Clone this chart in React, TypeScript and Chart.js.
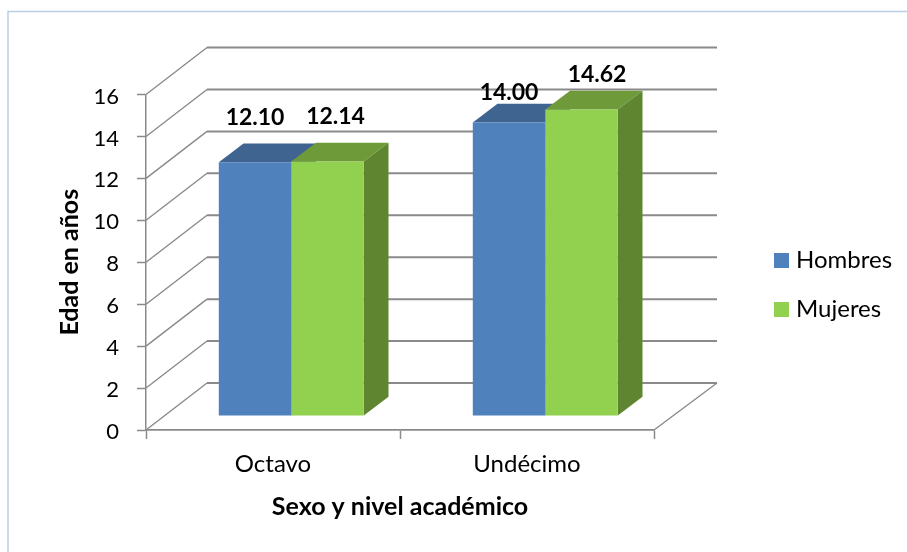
import React, { useEffect, useRef } from "react";
import { Chart, registerables } from "chart.js";

Chart.register(...registerables);

const categories = ["Octavo", "Undécimo"];
const hombres = [12.1, 14.0];
const mujeres = [12.14, 14.62];
const seriesNames = ["Hombres", "Mujeres"];
const axisTitleY = "Edad en años";
const axisTitleX = "Sexo y nivel académico";

const FONT = "Lato, Carlito, Calibri, sans-serif";
const AXIS = "#8a8a8a";
const BLUE = { front: "#4f81bd", top: "#3f6490", side: "#3a5f8c" };
const GREEN = { front: "#92d050", top: "#6f9a3a", side: "#5f8530" };
const palette = [BLUE, GREEN];

// 3D projection used by the hand-drawn walls and bar faces
const WALL = { dxLeft: 61, dxRight: 63, dy: 47 };
const BAR_SHIFT = { x: 18.3, y: -14 };
const BAR_DEPTH = { x: 24.7, y: 18.7 };
// manual placement of the value labels, relative to each bar's front-top centre
const LABEL_NUDGE = [
  [{ x: 0, y: -45 }, { x: 0, y: -30 }],
  [{ x: 8, y: -45 }, { x: 15.5, y: -35 }],
];

const threeD = {
  id: "threeD",
  beforeDraw(chart: any) {
    const { ctx, width, height } = chart;
    ctx.save();
    ctx.strokeStyle = "#b9cfe8";
    ctx.lineWidth = 1.5;
    ctx.beginPath();
    ctx.moveTo(8, height);
    ctx.lineTo(8, 11.5);
    ctx.lineTo(width, 11.5);
    ctx.stroke();
    ctx.restore();
  },
  afterLayout(chart: any) {
    const l = chart.legend;
    if (l) {
      const pad = l.options.labels.padding;
      l.left = 779 - pad;
      l.right = 907;
      l.width = l.right - l.left;
      l.top = 285 - 150 - pad;
      l.bottom = 285 + 150 + pad;
      l.height = l.bottom - l.top;
    }
    // The reference's value-axis numbers sit about 2px lower than a middle baseline gives.
    const y = chart.scales.y;
    if (!y.__shifted) {
      y.__shifted = true;
      const drawLabels = y.drawLabels;
      y.drawLabels = function (area: any) {
        this.ctx.save();
        this.ctx.translate(0, 2);
        drawLabels.call(this, area);
        this.ctx.restore();
      };
    }
  },
  beforeDatasetsDraw(chart: any) {
    const { ctx, chartArea, scales } = chart;
    const { left, right, bottom } = chartArea;
    ctx.save();
    ctx.strokeStyle = AXIS;
    ctx.lineCap = "butt";
    scales.y.ticks.forEach((t: any) => {
      const y = scales.y.getPixelForValue(t.value);
      ctx.lineWidth = 1.4;
      ctx.beginPath();
      ctx.moveTo(left, y);
      ctx.lineTo(left + WALL.dxLeft, y - WALL.dy);
      ctx.stroke();
      ctx.lineWidth = 2;
      ctx.beginPath();
      ctx.moveTo(left + WALL.dxLeft, y - WALL.dy);
      ctx.lineTo(right + WALL.dxRight, y - WALL.dy);
      ctx.stroke();
    });
    ctx.lineWidth = 1.4;
    ctx.beginPath();
    ctx.moveTo(right, bottom);
    ctx.lineTo(right + WALL.dxRight, bottom - WALL.dy);
    ctx.stroke();
    ctx.restore();

    // Series are painted first to last, so the second one overlaps the first.
    chart.data.datasets.forEach((_: any, i: number) => {
      const meta = chart.getDatasetMeta(i);
      const c = palette[i];
      ctx.save();
      ctx.translate(BAR_SHIFT.x, BAR_SHIFT.y);
      meta.data.forEach((el: any) => {
        const { x, y, base, width } = el.getProps(["x", "y", "base", "width"], true);
        const l = x - width / 2;
        const r = x + width / 2;
        ctx.fillStyle = c.top;
        ctx.beginPath();
        ctx.moveTo(l, y);
        ctx.lineTo(l + BAR_DEPTH.x, y - BAR_DEPTH.y);
        ctx.lineTo(r + BAR_DEPTH.x, y - BAR_DEPTH.y);
        ctx.lineTo(r, y);
        ctx.closePath();
        ctx.fill();
        ctx.fillStyle = c.side;
        ctx.beginPath();
        ctx.moveTo(r, y);
        ctx.lineTo(r + BAR_DEPTH.x, y - BAR_DEPTH.y);
        ctx.lineTo(r + BAR_DEPTH.x, base - BAR_DEPTH.y);
        ctx.lineTo(r, base);
        ctx.closePath();
        ctx.fill();
      });
      meta.controller.draw();
      ctx.restore();
    });
  },
  beforeDatasetDraw() {
    return false;
  },
  afterDatasetsDraw(chart: any) {
    const { ctx } = chart;
    ctx.save();
    ctx.fillStyle = "#000";
    ctx.font = `bold 23px ${FONT}`;
    ctx.textAlign = "center";
    ctx.textBaseline = "middle";
    chart.data.datasets.forEach((ds: any, i: number) => {
      chart.getDatasetMeta(i).data.forEach((el: any, j: number) => {
        const n = LABEL_NUDGE[i][j];
        ctx.fillText(
          ds.data[j].toFixed(2),
          el.x + BAR_SHIFT.x + n.x,
          el.y + BAR_SHIFT.y + n.y
        );
      });
    });
    ctx.restore();
  },
};

export default function App() {
  const ref = useRef<HTMLCanvasElement>(null);
  useEffect(() => {
    const chart = new Chart(ref.current as HTMLCanvasElement, {
      type: "bar",
      plugins: [threeD],
      data: {
        labels: categories,
        datasets: [
          {
            label: seriesNames[0],
            data: hombres,
            backgroundColor: BLUE.front,
            clip: false,
            categoryPercentage: 145 / 254,
            barPercentage: 1,
          },
          {
            label: seriesNames[1],
            data: mujeres,
            backgroundColor: GREEN.front,
            clip: false,
            categoryPercentage: 145 / 254,
            barPercentage: 1,
          },
        ],
      } as any,
      options: {
        animation: false,
        responsive: false,
        layout: { padding: { left: 0, top: 94.5, right: 153, bottom: 0 } },
        plugins: {
          tooltip: { enabled: false },
          legend: {
            position: "right",
            maxWidth: 100,
            align: "center",
            labels: {
              // a 5px box with a 10px stroke makes a 15px swatch that keeps the text close to it
              boxWidth: 5,
              boxHeight: 5,
              padding: 25,
              color: "#000",
              font: { family: FONT, size: 24, lineHeight: 1 },
              generateLabels: (chart: any) =>
                chart.data.datasets.map((ds: any, i: number) => ({
                  text: ds.label,
                  fillStyle: ds.backgroundColor,
                  strokeStyle: ds.backgroundColor,
                  lineWidth: 10,
                  hidden: false,
                  datasetIndex: i,
                  fontColor: "#000",
                })),
            },
          },
        },
        scales: {
          x: {
            afterFit: (s: any) => { s.height = 122; },
            grid: { drawOnChartArea: false, color: AXIS, tickLength: 9, tickWidth: 1.5 },
            border: { color: AXIS, width: 1.8 },
            ticks: {
              color: "#000",
              padding: 13,
              maxRotation: 0,
              font: { family: FONT, size: 24, lineHeight: 1 },
            },
            title: {
              display: true,
              text: axisTitleX,
              color: "#000",
              padding: { top: 0, bottom: 33 },
              font: { family: FONT, size: 25, weight: "bold", lineHeight: 1 },
            },
          },
          y: {
            min: 0,
            max: 16,
            afterFit: (s: any) => { s.width = 146; },
            grid: { drawOnChartArea: false, color: AXIS, tickLength: 9, tickWidth: 1.5 },
            border: { color: AXIS, width: 1.5 },
            ticks: {
              stepSize: 2,
              color: "#000",
              padding: 18,
              font: { family: FONT, size: 22, lineHeight: 1 },
            },
            title: {
              display: true,
              text: axisTitleY,
              color: "#000",
              padding: { top: 57, bottom: 0 },
              font: { family: FONT, size: 25, weight: "bold", lineHeight: 1 },
            },
          },
        },
      } as any,
    });
    return () => chart.destroy();
  }, []);
  return (
    <div style={{ position: "absolute", left: 0, top: 0, width: 907, height: 552, background: "#fff" }}>
      <canvas ref={ref} width={907} height={552} style={{ display: "block", width: 907, height: 552 }} />
    </div>
  );
}
